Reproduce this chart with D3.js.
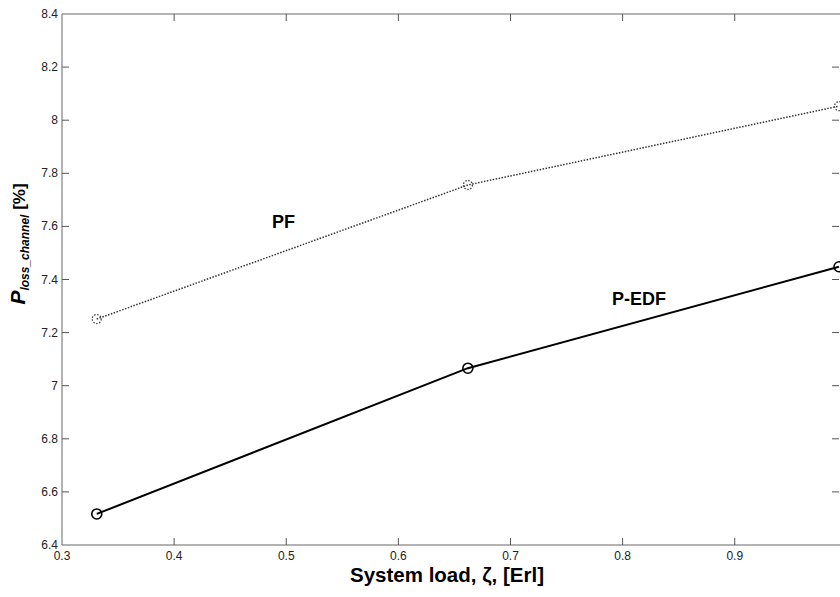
<!DOCTYPE html>
<html>
<head>
<meta charset="utf-8">
<script src="https://cdn.jsdelivr.net/npm/d3@7"></script>
<style>
  body { margin: 0; background: #fff; }
  svg { display: block; font-family: Arial, "Liberation Sans", sans-serif; }
</style>
</head>
<body>
<div id="chart"></div>
<script>
// values
const loads = [0.331, 0.662, 0.993];
const pfLoss = [7.251, 7.756, 8.053];
const pedfLoss = [6.517, 7.066, 7.448];
const xTicks = [0.3, 0.4, 0.5, 0.6, 0.7, 0.8, 0.9];
const yTicks = [6.4, 6.6, 6.8, 7, 7.2, 7.4, 7.6, 7.8, 8, 8.2, 8.4];

const width = 840, height = 597;
const margin = { top: 14, right: 0, bottom: 52, left: 62 };

const svg = d3.select('#chart').append('svg')
    .attr('width', width)
    .attr('height', height);

const x = d3.scaleLinear()
    .domain([0.3, 0.993])
    .range([margin.left, 839]);

const y = d3.scaleLinear()
    .domain([6.4, 8.4])
    .range([height - margin.bottom, margin.top]);

const tickLen = 7;

// frame: top edge is light gray, the rest darker
svg.append('line')
    .attr('x1', x(0.3)).attr('x2', width)
    .attr('y1', y(8.4)).attr('y2', y(8.4))
    .attr('stroke', '#b4b4b4').attr('stroke-width', 2);

svg.append('line')
    .attr('x1', x(0.3)).attr('x2', width)
    .attr('y1', y(6.4)).attr('y2', y(6.4))
    .attr('stroke', '#666').attr('stroke-width', 1);

svg.append('line')
    .attr('x1', x(0.3)).attr('x2', x(0.3))
    .attr('y1', y(8.4)).attr('y2', y(6.4))
    .attr('stroke', '#666').attr('stroke-width', 1);

// ticks on all four sides, pointing in
const ticks = svg.append('g').attr('stroke', '#555').attr('stroke-width', 1);

xTicks.slice(1).forEach(t => {
    ticks.append('line')
        .attr('x1', x(t)).attr('x2', x(t))
        .attr('y1', y(6.4)).attr('y2', y(6.4) - tickLen);
    ticks.append('line')
        .attr('x1', x(t)).attr('x2', x(t))
        .attr('y1', y(8.4)).attr('y2', y(8.4) + tickLen);
});

yTicks.slice(1, -1).forEach(t => {
    ticks.append('line')
        .attr('x1', x(0.3)).attr('x2', x(0.3) + tickLen)
        .attr('y1', y(t)).attr('y2', y(t));
    ticks.append('line')
        .attr('x1', x(0.993)).attr('x2', x(0.993) - tickLen)
        .attr('y1', y(t)).attr('y2', y(t));
});

// tick labels
svg.append('g').selectAll('text')
    .data(xTicks)
    .join('text')
    .attr('x', d => x(d))
    .attr('y', y(6.4) + 15)
    .attr('text-anchor', 'middle')
    .style('font-size', '12px')
    .attr('fill', '#222')
    .text(d => d);

svg.append('g').selectAll('text')
    .data(yTicks)
    .join('text')
    .attr('x', x(0.3) - 4)
    .attr('y', d => y(d) + 4)
    .attr('text-anchor', 'end')
    .style('font-size', '12px')
    .attr('fill', '#222')
    .text(d => d);

// series
const line = d3.line()
    .x(d => x(d[0]))
    .y(d => y(d[1]));

const pfData = d3.zip(loads, pfLoss);
const pedfData = d3.zip(loads, pedfLoss);

svg.append('path')
    .datum(pfData)
    .attr('d', line)
    .attr('fill', 'none')
    .attr('stroke', '#333')
    .attr('stroke-width', 1.5)
    .attr('stroke-dasharray', '1.5,1.5');

svg.append('g').selectAll('circle')
    .data(pfData)
    .join('circle')
    .attr('cx', d => x(d[0]))
    .attr('cy', d => y(d[1]))
    .attr('r', 4.5)
    .attr('fill', 'none')
    .attr('stroke', '#444')
    .attr('stroke-width', 1.3)
    .attr('stroke-dasharray', '1.5,1.5');

svg.append('path')
    .datum(pedfData)
    .attr('d', line)
    .attr('fill', 'none')
    .attr('stroke', '#000')
    .attr('stroke-width', 2);

svg.append('g').selectAll('circle')
    .data(pedfData)
    .join('circle')
    .attr('cx', d => x(d[0]))
    .attr('cy', d => y(d[1]))
    .attr('r', 5)
    .attr('fill', 'none')
    .attr('stroke', '#000')
    .attr('stroke-width', 1.6);

// series labels
svg.append('text')
    .attr('x', 272)
    .attr('y', 228)
    .style('font', 'bold 18px Arial, "Liberation Sans", sans-serif')
    .text('PF');

svg.append('text')
    .attr('x', 612)
    .attr('y', 305)
    .style('font', 'bold 18px Arial, "Liberation Sans", sans-serif')
    .text('P-EDF');

// axis titles
svg.append('text')
    .attr('x', 447)
    .attr('y', 582)
    .attr('text-anchor', 'middle')
    .style('font', 'bold 20.5px Arial, "Liberation Sans", sans-serif')
    .text('System load, \u03B6, [Erl]');

const yTitle = svg.append('text')
    .attr('transform', `translate(25, 244) rotate(-90)`)
    .attr('text-anchor', 'middle')
    .style('font-family', 'Arial, "Liberation Sans", sans-serif')
    .style('font-weight', 'bold');

yTitle.append('tspan')
    .style('font-size', '21px')
    .style('font-style', 'italic')
    .text('P');
yTitle.append('tspan')
    .style('font-size', '12px')
    .style('font-style', 'italic')
    .attr('dy', 4)
    .text('loss_channel');
yTitle.append('tspan')
    .style('font-size', '17px')
    .attr('dy', -4)
    .text(' [%]');
</script>
</body>
</html>
